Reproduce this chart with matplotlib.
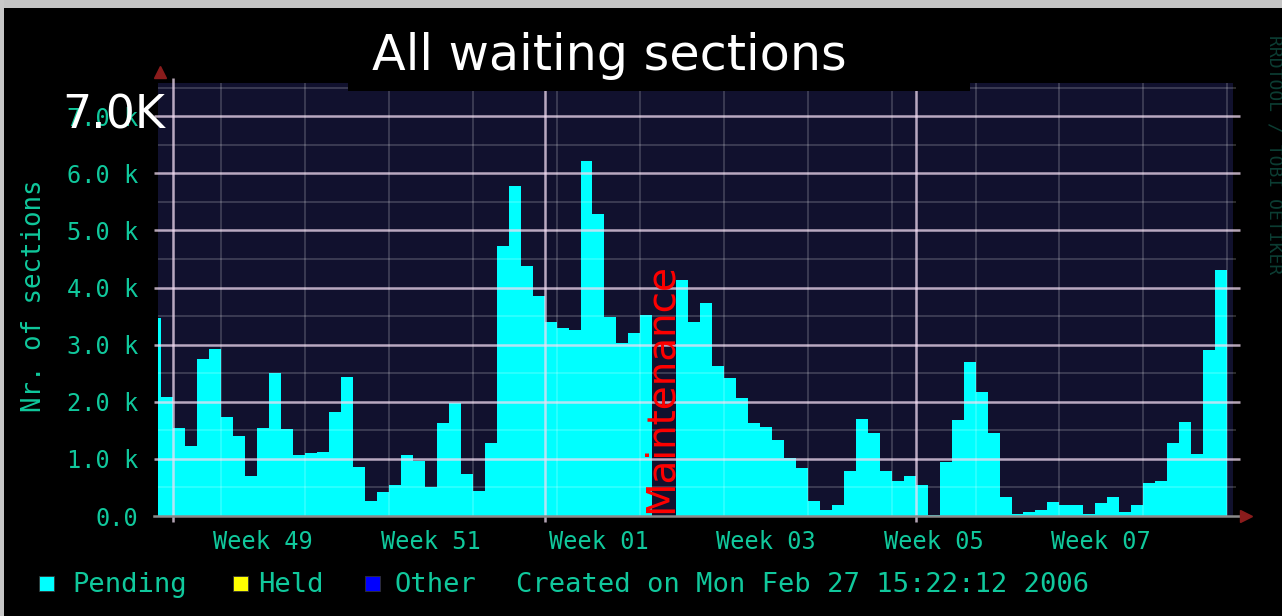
import datetime as dt
import pandas as pd
import matplotlib
matplotlib.use('Agg')
import matplotlib.pyplot as plt
from matplotlib.patches import Rectangle

# daily waiting sections (thousands), first day 2005-11-29
start_day = dt.datetime(2005, 11, 29)
nov_vals = [3.46, 2.08]
dec_vals = [1.54, 1.22, 2.74, 2.92, 1.73, 1.40, 0.70, 1.54, 2.50, 1.52, 1.07,
            1.10, 1.12, 1.82, 2.43, 0.86, 0.26, 0.42, 0.54, 1.07, 0.96, 0.51,
            1.62, 1.98, 0.73, 0.44, 1.28, 4.72, 5.77, 4.37, 3.85]
jan_vals = [3.39, 3.29, 3.25, 6.22, 5.28, 3.48, 3.02, 3.20, 3.51, 0.0, 0.0,
            4.14, 3.39, 3.72, 2.62, 2.41, 2.06, 1.62, 1.56, 1.33, 1.02, 0.84,
            0.26, 0.10, 0.19, 0.79, 1.70, 1.45, 0.79, 0.61, 0.70]
feb_vals = [0.54, 0.02, 0.94, 1.68, 2.70, 2.17, 1.45, 0.34, 0.03, 0.07, 0.10,
            0.24, 0.20, 0.20, 0.03, 0.23, 0.33, 0.07, 0.20, 0.57, 0.61, 1.28,
            1.65, 1.08, 2.90, 4.31]
pending = [v * 1000 for v in nov_vals + dec_vals + jan_vals + feb_vals]
days = pd.date_range(start_day, periods=len(pending), freq='D')

month_starts = [dt.datetime(2005, 12, 1), dt.datetime(2006, 1, 1), dt.datetime(2006, 2, 1)]
mondays = pd.date_range('2005-12-05', '2006-02-27', freq='W-MON')
week_starts = pd.to_datetime(['2005-12-05', '2005-12-19', '2006-01-02',
                              '2006-01-16', '2006-01-30', '2006-02-13'])
week_labels = ['Week 49', 'Week 51', 'Week 01', 'Week 03', 'Week 05', 'Week 07']
y_ticks = [0, 1000, 2000, 3000, 4000, 5000, 6000, 7000]
y_labels = ['0.0', '1.0 k', '2.0 k', '3.0 k', '4.0 k', '5.0 k', '6.0 k', '7.0 k']
y_minor = [500, 1500, 2500, 3500, 4500, 5500, 6500, 7500]
legend_names = ['Pending', 'Held', 'Other']
legend_colors = ['#00ffff', '#ffff00', '#0000ff']

W, H = 1282, 616
TEAL = '#10c89c'
MONO = 'DejaVu Sans Mono'

def fx(px): return px / W
def fy(py): return 1 - py / H

fig = plt.figure(figsize=(W / 100, H / 100), dpi=100, facecolor='black')
ax = fig.add_axes([fx(158), fy(516), fx(1233) - fx(158), fy(83) - fy(516)])
ax.set_facecolor('#11112e')

ax.bar(days, pending, width=1.0, align='edge', color='#00ffff', linewidth=0, zorder=2)

ax.set_xlim(dt.datetime(2005, 11, 29, 17), dt.datetime(2006, 2, 27, 12))
ax.set_ylim(0, 7580)

# grid (drawn over the area, rrdtool style)
ax.hlines(y_minor, 0, 1.003, transform=ax.get_yaxis_transform(), color='white',
          alpha=0.2, lw=1.2, zorder=3, clip_on=False)
ax.hlines(y_ticks[1:], -0.004, 1.0065, transform=ax.get_yaxis_transform(),
          color='#f2dcf2', alpha=0.75, lw=1.8, zorder=3, clip_on=False)
ax.vlines(mondays, 0, 1, transform=ax.get_xaxis_transform(), color='white',
          alpha=0.2, lw=1.2, zorder=3)
ax.vlines(month_starts, -0.014, 1.012, transform=ax.get_xaxis_transform(),
          color='#f2dcf2', alpha=0.75, lw=1.8, zorder=3, clip_on=False)

for s in ax.spines.values():
    s.set_visible(False)
ax.plot([-0.004, 1.008], [0, 0], transform=ax.transAxes, color='#8a8a8a',
        lw=1.8, zorder=4, clip_on=False)
ax.plot(1.012, 0, marker='>', ms=8, color='#8b1c1c', transform=ax.transAxes,
        clip_on=False, zorder=5)
ax.plot(0.002, 1.026, marker='^', ms=8, color='#8b1c1c', transform=ax.transAxes,
        clip_on=False, zorder=5)

ax.set_xticks(week_starts + pd.Timedelta(hours=84))
ax.set_xticklabels(week_labels, fontsize=17, family=MONO, color=TEAL)
ax.tick_params(axis='x', length=0, pad=10)
ax.set_yticks(y_ticks)
ax.set_yticklabels(y_labels, fontsize=17, family=MONO, color=TEAL)
ax.tick_params(axis='y', length=0, pad=14)

fig.text(fx(34), fy(296), 'Nr. of sections', rotation=90, ha='center', va='center',
         fontsize=18.5, family=MONO, color=TEAL)
fig.text(fx(1275), fy(155), 'RRDTOOL / TOBI OETIKER', rotation=270, ha='center',
         va='center', fontsize=13, family=MONO, color='#0c3d33')

# legend line
leg_x = [39, 233, 365]
txt_x = [72, 258, 395]
for name, col, lx, tx in zip(legend_names, legend_colors, leg_x, txt_x):
    fig.patches.append(Rectangle((fx(lx), fy(591)), fx(15), 15 / H, facecolor=col,
                                 edgecolor='#333333', lw=0.6, transform=fig.transFigure))
    fig.text(fx(tx), fy(592), name, fontsize=19.5, family=MONO, color=TEAL, va='baseline')
fig.text(fx(516), fy(592), 'Created on Mon Feb 27 15:22:12 2006', fontsize=19.5,
         family=MONO, color=TEAL, va='baseline')

# annotations pasted over the graph
fig.patches.append(Rectangle((fx(348), fy(91)), fx(622), 81 / H, facecolor='black',
                             edgecolor='none', transform=fig.transFigure, zorder=5))
fig.text(fx(372), fy(70), 'All waiting sections', fontsize=35.5, color='white',
         va='baseline', zorder=6)
fig.text(fx(62), fy(128), '7.0K', fontsize=33, color='white', va='baseline', zorder=6)
fig.text(fx(661), fy(388), 'Maintenance', rotation=90, fontsize=28, color='#ff0000',
         ha='center', va='center', zorder=6)

# grey frame at top and left
fig.patches.append(Rectangle((0, fy(8)), 1, 8 / H, facecolor='#c4c4c4', edgecolor='none',
                             transform=fig.transFigure, zorder=7))
fig.patches.append(Rectangle((0, 0), fx(4), 1, facecolor='#c8c8c8', edgecolor='none',
                             transform=fig.transFigure, zorder=7))

fig.savefig('out.png', dpi=100, facecolor='black')
